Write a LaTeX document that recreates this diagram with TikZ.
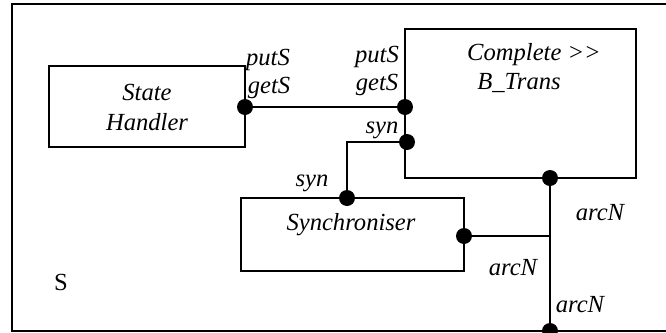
\documentclass[tikz,border=0pt]{standalone}
\usepackage{fontspec}
\setmainfont{Liberation Serif}
\usetikzlibrary{positioning}

\tikzset{
  proc/.style={draw, line width=0.7pt, inner sep=0pt},
  port/.style={circle, fill=black, inner sep=0pt, minimum size=8pt},
  lbl/.style={inner sep=0pt, font=\fontsize{12.3}{15}\selectfont\itshape},
  wire/.style={line width=0.7pt},
}

\begin{document}
\begin{tikzpicture}[x=0.5pt, y=-0.5pt]
    \useasboundingbox (0,0) rectangle (666,333);
    % frame of S
    \draw[line width=0.8pt] (666,4) -- (12,4) -- (12,331) -- (666,331);
    \node[lbl, font=\fontsize{12.3}{15}\selectfont] (s) at (61,282) {S};

    \node[proc, minimum width=98pt, minimum height=40.5pt] (handler) at (147,106.5) {};
    \node[lbl, align=center] at (147,107) {State\\Handler};
    \node[proc, minimum width=115.5pt, minimum height=74.5pt] (bt) at (520.5,103.5) {};
    \node[lbl] (complete) at (534,55) {Complete >\kern0pt>};
    \node[lbl] (btrans) at (519,83) {B\_Trans};
    \node[proc, minimum width=111.5pt, minimum height=36.5pt] (sync) at (352.5,234.5) {};
    \node[lbl] at (351,225) {Synchroniser};

    \node[port] (hget) at (245,107) {};
    \node[port] (bget) at (405,107) {};
    \node[port] (bsyn) at (407,142) {};
    \node[port] (ssyn) at (347,198) {};
    \node[port] (sarc) at (464,236) {};
    \node[port] (barc) at (550,178) {};
    \node[port] (oarc) at (550,331) {};
    \coordinate (join) at (550,236);

    \node[lbl] at (268,60) {putS};
    \node[lbl] at (269,88) {getS};
    \node[lbl] at (377,57) {putS};
    \node[lbl] at (377,85) {getS};
    \node[lbl] at (382,130) {syn};
    \node[lbl] at (312,183) {syn};
    \node[lbl] at (600,213) {arcN};
    \node[lbl] at (513,268) {arcN};
    \node[lbl] at (580,305) {arcN};

    \draw[wire] (hget) -- (bget);
    \draw[wire] (bsyn) -| (ssyn);
    \draw[wire] (barc) -- (oarc);
    \draw[wire] (sarc) -- (join);
\end{tikzpicture}
\end{document}
